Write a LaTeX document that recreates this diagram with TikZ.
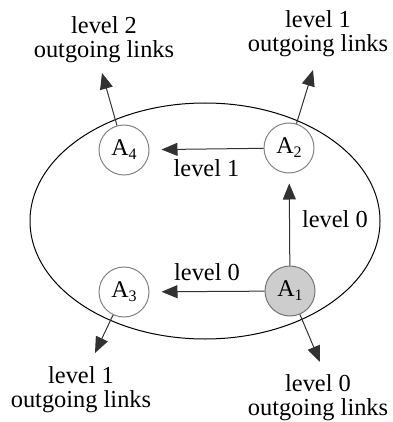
\documentclass[tikz,border=0pt]{standalone}
\usepackage{fontspec}
\setmainfont{Liberation Serif}
\usetikzlibrary{arrows.meta}
\definecolor{lnc}{RGB}{50,50,50}
\definecolor{nodeb}{RGB}{130,130,130}
\definecolor{nodef}{RGB}{205,205,205}
\newcommand{\agt}[1]{A\raisebox{-0.35ex}{\fontsize{8}{9}\selectfont #1}}
\tikzset{
  agent/.style={circle, draw=nodeb, line width=0.5pt, fill=white, minimum size=25pt, inner sep=0pt, font=\fontsize{12}{14}\selectfont},
  link/.style={draw=lnc, line width=0.5pt, -{Triangle[length=8pt,width=6.5pt]}},
  lab/.style={font=\fontsize{12.2}{12}\selectfont, align=center, inner sep=0pt},
}
\begin{document}
\begin{tikzpicture}[x=0.5pt,y=-0.5pt]
\useasboundingbox (0,0) rectangle (392,422);
\draw[line width=0.5pt] (205,221) ellipse [x radius=175, y radius=118];
\node[agent] (A4) at (124,150) {\agt{4}};
\node[agent] (A2) at (289,148) {\agt{2}};
\node[agent] (A3) at (124,292) {\agt{3}};
\node[agent, fill=nodef, draw=nodeb!90!black] (A1) at (290,291) {\agt{1}};
\coordinate (t4) at (102,73);
\coordinate (t2) at (313,70);
\coordinate (t3) at (95,353);
\coordinate (t1) at (320,362);
\draw[link, shorten >=6pt] (A2) -- node[lab, below=5pt] {level 1} (A4);
\draw[link, shorten >=5pt] (A1) -- node[lab, right=6pt] {level 0} (A2);
\draw[link, shorten >=6pt] (A1) -- node[lab, above=5pt] {level 0} (A3);
\draw[link] (A4) -- (t4);
\draw[link] (A2) -- (t2);
\draw[link] (A3) -- (t3);
\draw[link] (A1) -- (t1);
\node[lab] (L4) at (104,40) {level 2\\outgoing links};
\node[lab] (L2) at (318,34) {level 1\\outgoing links};
\node[lab] (L3) at (81,390) {level 1\\outgoing links};
\node[lab] (L1) at (318,398) {level 0\\outgoing links};
\end{tikzpicture}
\end{document}
